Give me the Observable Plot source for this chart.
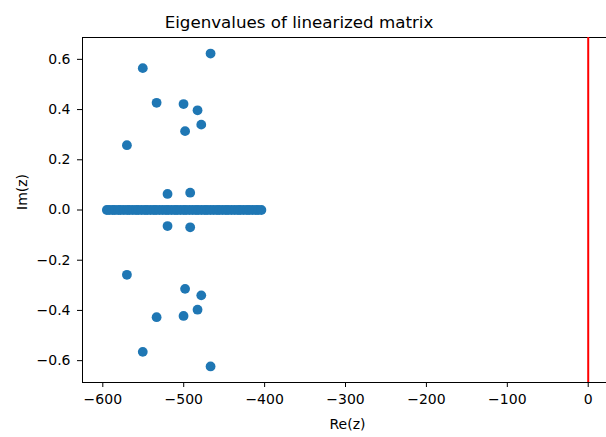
<!DOCTYPE html>
<html>
<head>
<meta charset="utf-8">
<script src="https://cdn.jsdelivr.net/npm/d3@7"></script>
<script src="https://cdn.jsdelivr.net/npm/@observablehq/plot@0.6"></script>
<style>
  html, body { margin: 0; padding: 0; background: white; overflow: hidden; }
  #title { position: relative; width: 606px; height: 30px; }
  #title span { position: absolute; left: 0; width: 598px; top: 14px; text-align: center;
    font-family: "DejaVu Sans"; font-size: 16.7px; line-height: 16.7px; color: black; white-space: nowrap; }
</style>
</head>
<body>
<div id="title"><span>Eigenvalues of linearized matrix</span></div>
<div id="chart"></div>
<script>
// Real eigenvalues (imaginary part 0)
const realRe = [-595, -592, -588, -585, -581, -578, -574, -570, -567, -563, -559, -556, -552,
  -548, -545, -541, -537, -534, -530, -526, -522, -519, -515, -511, -508, -504, -500, -497,
  -493, -489, -485, -482, -478, -474, -471, -467, -463, -459, -456, -452, -448, -445, -441,
  -437, -433, -430, -426, -422, -419, -415, -411, -408, -404];
// Complex eigenvalues (upper half; conjugates are mirrored)
const complexRe = [-466.8, -550.6, -533.5, -500.2, -482.9, -498.3, -478.3, -570.2, -520.0, -492.0];
const complexIm = [0.623, 0.565, 0.427, 0.422, 0.397, 0.314, 0.340, 0.258, 0.064, 0.069];
const xTicks = [-600, -500, -400, -300, -200, -100, 0];
const yTicks = [-0.6, -0.4, -0.2, 0.0, 0.2, 0.4, 0.6];
const xDomain = [-625.1, 22.6];
const yDomain = [-0.687, 0.687];
const stabilityLine = [0];

const points = [
  ...realRe.map(re => ({re, im: 0})),
  ...complexRe.map((re, i) => ({re, im: complexIm[i]})),
  ...complexRe.map((re, i) => ({re, im: -complexIm[i]}))
];

const chart = Plot.plot({
  width: 606,
  height: 407,
  marginLeft: 82,
  marginRight: 0,
  marginTop: 7,
  marginBottom: 55,
  style: {fontFamily: "DejaVu Sans", fontSize: "14px", color: "black", background: "white"},
  x: {domain: xDomain},
  y: {domain: yDomain},
  marks: [
    Plot.ruleY(yDomain, {stroke: "black", strokeWidth: 1}),
    Plot.ruleX([xDomain[0]], {stroke: "black", strokeWidth: 1}),
    Plot.axisX({ticks: xTicks, tickSize: 5, tickPadding: 7, tickFormat: d3.format("d"), label: null, stroke: "black"}),
    Plot.axisY({ticks: yTicks, tickSize: 5, tickPadding: 7, tickFormat: d3.format(".1f"), label: null, stroke: "black"}),
    Plot.dot(points, {x: "re", y: "im", r: 4.9, fill: "#1f77b4", stroke: "none"}),
    Plot.ruleX(stabilityLine, {stroke: "red", strokeWidth: 2}),
    Plot.text(["Re(z)"], {frameAnchor: "bottom", dx: 3, dy: 46.5, lineAnchor: "bottom", fontSize: 14, fill: "black"}),
    Plot.text(["Im(z)"], {frameAnchor: "left", dx: -56, dy: 0, rotate: -90, lineAnchor: "bottom", fontSize: 14, fill: "black"})
  ]
});
document.getElementById("chart").appendChild(chart);
</script>
</body>
</html>
